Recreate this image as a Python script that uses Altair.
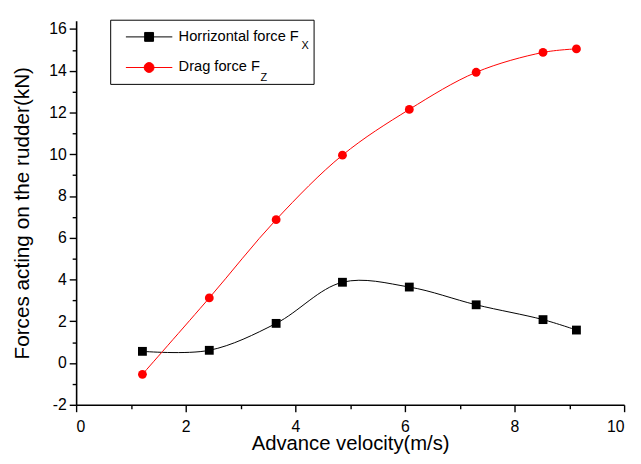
import altair as alt
import pandas as pd

# ---- data ----
velocity = [1.21, 2.43, 3.65, 4.86, 6.08, 7.30, 8.52, 9.13]
horizontal_fx = [0.56, 0.61, 1.90, 3.87, 3.64, 2.79, 2.08, 1.58]
drag_fz = [-0.54, 3.12, 6.87, 9.96, 12.15, 13.93, 14.88, 15.05]
series_names = ["Horrizontal force F", "Drag force F"]
series_colors = ["#000000", "#ff0000"]
subscripts = ["X", "Z"]

x_ticks = list(range(0, 11))
y_ticks = list(range(-2, 17))

rows = []
for v, f in zip(velocity, horizontal_fx):
    rows.append({"series": series_names[0], "v": v, "f": f})
for v, f in zip(velocity, drag_fz):
    rows.append({"series": series_names[1], "v": v, "f": f})
df = pd.DataFrame(rows)

FONT = "Liberation Sans"
LABEL_EXPR = "datum.value % 2 === 0 ? replace(datum.label, '\u2212', '-') : ''"

x_enc = alt.X(
    "v:Q",
    scale=alt.Scale(domain=[0, 10], nice=False, zero=False),
    axis=alt.Axis(
        title="Advance velocity(m/s)",
        values=x_ticks,
        labelExpr=LABEL_EXPR,
        tickSize={"condition": {"test": "datum.value % 2 !== 0", "value": 4}, "value": 7},
        labelFontSize=16,
        labelPadding=7,
        titleFontSize=20.5,
        titleBaseline="alphabetic",
        titleY=45,
    ),
)
y_enc = alt.Y(
    "f:Q",
    scale=alt.Scale(domain=[-2, 16.4], nice=False, zero=False),
    axis=alt.Axis(
        title="Forces acting on the rudder(kN)",
        values=y_ticks,
        labelExpr=LABEL_EXPR,
        tickSize={"condition": {"test": "datum.value % 2 !== 0", "value": 4}, "value": 7},
        labelFontSize=16,
        labelPadding=3,
        titlePadding=16,
    ),
)

color_scale = alt.Scale(domain=series_names, range=series_colors)

square_path = "M-0.2,0H9.2M3.6,-0.9H5.4V0.9H3.6Z"
circle_path = "M-0.2,0H9.2M5.5,0A1,1 0 1,1 3.5,0A1,1 0 1,1 5.5,0Z"
is_drag = "datum.value === 'Drag force F'"

legend = alt.Legend(
    title=None,
    orient="none",
    legendX=35,
    legendY=0,
    direction="vertical",
    padding=9,
    rowPadding=15,
    symbolSize=100,
    symbolStrokeWidth=1,
    symbolOpacity=1,
    symbolType={"expr": is_drag + " ? '" + circle_path + "' : '" + square_path + "'"},
    symbolStrokeColor={"expr": is_drag + " ? '#ff0000' : '#000000'"},
    symbolFillColor={"expr": is_drag + " ? '#ff0000' : '#000000'"},
    labelOffset=45,
    labelFont=FONT,
    labelFontSize=14.8,
    labelColor="#000000",
    labelLimit=400,
)

base = alt.Chart(df)

lines = base.mark_line(interpolate="catmull-rom", strokeWidth=1).encode(
    x=x_enc,
    y=y_enc,
    color=alt.Color("series:N", scale=color_scale, legend=legend),
    detail="series:N",
)

squares = (
    base.transform_filter(alt.datum.series == series_names[0])
    .mark_square(size=80, opacity=1)
    .encode(x=x_enc, y=y_enc, color=alt.Color("series:N", scale=color_scale, legend=legend))
)
circles = (
    base.transform_filter(alt.datum.series == series_names[1])
    .mark_circle(size=80, opacity=1)
    .encode(x=x_enc, y=y_enc, color=alt.Color("series:N", scale=color_scale, legend=legend))
)

# legend frame (pixel styling of the legend box)
frame = alt.Chart(pd.DataFrame({"k": [0]})).mark_rect(fill=None, stroke="#000000", strokeWidth=1).encode(
    x=alt.value(35), x2=alt.value(241), y=alt.value(-0.5), y2=alt.value(64.5)
)

sub_df = pd.DataFrame({"t": subscripts, "px": [232, 190], "py": [29, 61]})
subs = alt.Chart(sub_df).mark_text(font=FONT, fontSize=11, color="#000000", align="center", baseline="alphabetic").encode(
    text="t:N",
    x=alt.X("px:Q", scale=None),
    y=alt.Y("py:Q", scale=None),
)

chart = (
    alt.layer(lines, squares, circles, frame, subs)
    .properties(
        width=555,
        height=389,
        autosize=alt.AutoSizeParams(type="none"),
        padding={"left": 69, "top": 10, "right": 9, "bottom": 49},
    )
    .configure_view(stroke=None)
    .configure_axis(
        domainColor="#000000",
        domainWidth=1.6,
        tickColor="#000000",
        tickWidth=1.4,
        grid=False,
        labelFont=FONT,
        labelColor="#000000",
        titleFont=FONT,
        titleFontSize=21,
        titleFontWeight="normal",
        titleColor="#000000",
    )
)

chart.save("out.html", embed_options={"renderer": "svg", "actions": False})
